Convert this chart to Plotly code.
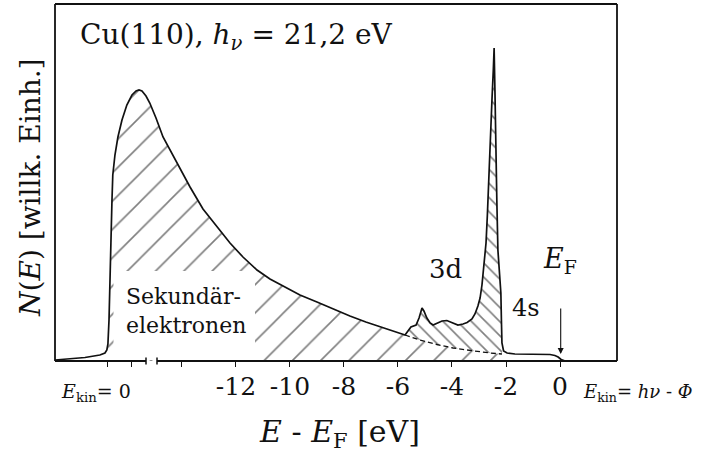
import plotly.graph_objects as go

# Photoelectron spectrum of Cu(110) at h*nu = 21.2 eV
# energy relative to the Fermi level (eV), intensity in arbitrary units
energy = [-18.70, -18.15, -17.59, -17.04, -16.85, -16.78, -16.74, -16.70, -16.67, -16.63,
          -16.59, -16.56, -16.48, -16.37, -16.22, -16.04, -15.85, -15.70, -15.59, -15.48,
          -15.33, -15.19, -14.96, -14.70, -14.44, -14.19, -13.70, -13.22, -12.70, -12.22,
          -11.74, -11.22, -10.74, -10.26, -9.63, -9.00, -8.33, -7.78, -7.19, -6.56,
          -6.11, -5.85, -5.74, -5.63, -5.52, -5.33, -5.22, -5.11, -5.04, -4.93,
          -4.81, -4.70, -4.56, -4.37, -4.19, -4.00, -3.78, -3.59, -3.44, -3.26,
          -3.15, -3.04, -2.96, -2.89, -2.81, -2.74, -2.69, -2.63, -2.57, -2.52,
          -2.47, -2.44, -2.41, -2.38, -2.34, -2.30, -2.24, -2.19, -2.17, -2.15,
          -2.09, -1.96, -1.67, -0.74, -0.37, -0.19, -0.07, 0.04, 0.19]
intensity = [1, 2, 3.5, 6, 8, 11, 17, 41, 81, 121,
             161, 186, 206, 224, 241, 256, 266, 270, 271, 270,
             265, 258, 243, 224, 211, 198, 174, 152, 134, 118,
             104, 91, 82, 75, 66, 59, 51, 45, 39, 33,
             29, 27, 26, 30, 34, 36, 43, 53, 50, 43,
             38, 36, 37.5, 40, 40.5, 38.5, 36, 37, 38.5, 42,
             47, 55, 63, 76, 96, 118, 146, 181, 221, 261,
             291, 313, 271, 211, 161, 111, 86, 68, 41, 18,
             10, 8, 7, 7, 6.5, 5.5, 4, 1.5, 0]

# secondary-electron background below the 3d band
bg_energy = [-5.74, -5.19, -4.56, -3.96, -3.44, -2.96, -2.59, -2.15]
bg_intensity = [26, 21, 16.5, 13, 11, 9, 8, 7]

tick_vals = [-16.74, -15.85, -14, -12, -10, -8, -6, -4, -2, 0]
tick_text = ["", "", "", "-12", "-10", "-8", "-6", "-4", "-2", "0"]

X_MIN, X_MAX = -18.70, 2.11
Y_MAX = 357
W, H = 704, 453
ML, MR, MT, MB = 55, 87, 4, 92
PW, PH = W - ML - MR, H - MT - MB
FONT = "DejaVu Serif"


def px(x, y):
    """pixel position -> paper coordinates"""
    return (x - ML) / PW, (H - MB - y) / PH


def ex(x):
    """pixel column -> energy"""
    return X_MIN + (x - ML) / PW * (X_MAX - X_MIN)


# secondary region: spectrum up to the onset of the 3d band, then the background
sec_E = [e for e in energy if -16.78 <= e <= bg_energy[0]] + bg_energy[1:]
sec_N = [n for e, n in zip(energy, intensity) if -16.78 <= e <= bg_energy[0]] + bg_intensity[1:]
d_E = [e for e in energy if bg_energy[0] <= e <= bg_energy[-1]]
d_N = [n for e, n in zip(energy, intensity) if bg_energy[0] <= e <= bg_energy[-1]]

fig = go.Figure()
fig.add_trace(go.Scatter(
    x=sec_E, y=sec_N, mode="none", fill="tozeroy", fillcolor="rgba(0,0,0,0)",
    fillpattern=dict(shape="/", size=20, solidity=0.08, fgcolor="#000",
                     bgcolor="rgba(0,0,0,0)")))
fig.add_trace(go.Scatter(x=bg_energy, y=bg_intensity, mode="lines",
                         line=dict(width=0, color="rgba(0,0,0,0)")))
fig.add_trace(go.Scatter(
    x=d_E, y=d_N, mode="none", fill="tonexty", fillcolor="rgba(0,0,0,0)",
    fillpattern=dict(shape="\\", size=10, solidity=0.16, fgcolor="#000",
                     bgcolor="rgba(0,0,0,0)")))
fig.add_trace(go.Scatter(x=bg_energy, y=bg_intensity, mode="lines",
                         line=dict(color="#111", width=1.3, dash="5px,3px")))
fig.add_trace(go.Scatter(x=energy, y=intensity, mode="lines",
                         line=dict(color="#111", width=1.7)))

shapes = []
# blank area around the "Sekundärelektronen" label
x0, y0 = px(113.5, 360)
x1, y1 = px(255, 271)
shapes.append(dict(type="rect", xref="paper", yref="paper", x0=x0, y0=y0, x1=x1, y1=y1,
                   fillcolor="white", line=dict(width=0), layer="above"))
# frame with a break in the energy axis
lw = dict(color="#111", width=1.8)
b0, _ = px(146, 0)
b1, _ = px(157, 0)
cap = 3.5 / PH
for seg in [(0, 0, 0, 1), (1, 0, 1, 1), (0, 1, 1, 1), (0, 0, b0, 0), (b1, 0, 1, 0)]:
    shapes.append(dict(type="line", xref="paper", yref="paper", x0=seg[0], y0=seg[1],
                       x1=seg[2], y1=seg[3], line=lw, layer="above"))
for b in (b0, b1):
    shapes.append(dict(type="line", xref="paper", yref="paper", x0=b, y0=-cap,
                       x1=b, y1=cap, line=dict(color="#111", width=1.5), layer="above"))


def note(text, x, y, size, xanchor="center", yanchor="middle", **kw):
    xp, yp = px(x, y)
    return dict(text=text, x=xp, y=yp, xref="paper", yref="paper", showarrow=False,
                xanchor=xanchor, yanchor=yanchor,
                font=dict(family=FONT, size=size, color="#111"), **kw)


annotations = [
    note("Cu(110), <i>h</i><sub><i>ν</i></sub> = 21,2 eV", 78, 36, 28, xanchor="left"),
    note("<i>N</i>(<i>E</i>) [willk. Einh.]", 31, 188, 28, textangle=-90),
    note("<i>E</i> - <i>E</i><sub>F</sub> [eV]", 339, 433, 30),
    note("Sekundär-<br>elektronen", 124, 311, 22, xanchor="left", align="left"),
    note("3d", 445, 269, 26),
    note("4s", 526, 308, 24),
    note("<i>E</i><sub>F</sub>", 560, 260, 27),
    note("<i>E</i><sub>kin</sub>= 0", 96, 393, 19),
    note("<i>E</i><sub>kin</sub>= <i>hν</i> - <i>Φ</i>", 581, 393, 18, xanchor="left"),
]
# Fermi-level marker
annotations.append(dict(x=ex(560.7), y=7, xref="x", yref="y", text="", showarrow=True,
                        ax=0, ay=-47, arrowhead=2, arrowsize=1.1, arrowwidth=1.1,
                        arrowcolor="#111"))

fig.update_layout(
    width=W, height=H, margin=dict(l=ML, r=MR, t=MT, b=MB),
    paper_bgcolor="white", plot_bgcolor="white", showlegend=False,
    shapes=shapes, annotations=annotations,
    font=dict(family=FONT, color="#111"),
    xaxis=dict(range=[X_MIN, X_MAX], showgrid=False, zeroline=False, showline=False,
               ticks="outside", ticklen=5, tickwidth=1.3, tickcolor="#111",
               tickvals=tick_vals, ticktext=tick_text, ticklabelstandoff=-2,
               tickfont=dict(family=FONT, size=25, color="#111")),
    yaxis=dict(range=[0, Y_MAX], visible=False),
)

fig.write_html("out.html")
